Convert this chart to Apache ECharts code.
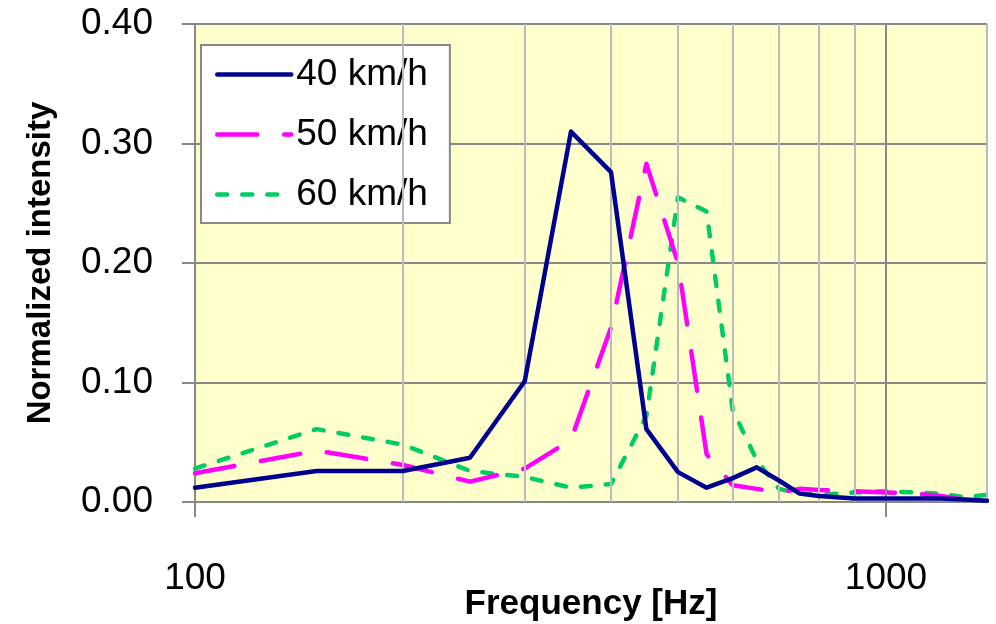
<!DOCTYPE html>
<html>
<head>
<meta charset="utf-8">
<script src="https://cdn.jsdelivr.net/npm/echarts@6/dist/echarts.min.js"></script>
<style>
  html, body { margin: 0; padding: 0; background: #fff; }
  #chart { width: 996px; height: 624px; }
</style>
</head>
<body>
<div id="chart"></div>
<script>
// frequencies (Hz) shared by all three curves
var freq = [100, 150, 200, 250, 300, 350, 400, 450, 500, 550, 600, 650, 700, 750, 800, 900, 1000, 1100, 1200, 1300, 1400];
var speeds = ['40 km/h', '50 km/h', '60 km/h'];
var v40 = [0.012, 0.026, 0.026, 0.037, 0.101, 0.310, 0.276, 0.061, 0.025, 0.012, 0.020, 0.029, 0.018, 0.007, 0.005, 0.003, 0.003, 0.003, 0.003, 0.002, 0.001];
var v50 = [0.024, 0.043, 0.031, 0.017, 0.028, 0.052, 0.146, 0.283, 0.200, 0.040, 0.014, 0.011, 0.008, 0.011, 0.010, 0.009, 0.008, 0.007, 0.005, 0.002, 0.001];
var v60 = [0.028, 0.061, 0.048, 0.026, 0.021, 0.012, 0.015, 0.072, 0.255, 0.243, 0.077, 0.035, 0.011, 0.007, 0.006, 0.008, 0.009, 0.008, 0.007, 0.004, 0.006];
var xLabels = [100, 1000];
var minorX = [200, 300, 400, 500, 600, 700, 800, 900, 1400];

function pairs(vals) {
    return freq.map(function (f, i) { return [f, vals[i]]; });
}

var font = 'Liberation Sans, Arial, sans-serif';
var chart = echarts.init(document.getElementById('chart'));

var option = {
    animation: false,
    grid: {
        left: 195, top: 24, right: 9, bottom: 122,
        outerBoundsMode: 'none',
        show: true, backgroundColor: '#FFFFCC', borderWidth: 0
    },
    legend: {
        orient: 'vertical',
        left: 201, top: 45,
        data: speeds,
        backgroundColor: '#fff',
        borderColor: '#888', borderWidth: 2,
        padding: [11, 22, 10, 14],
        itemWidth: 74, itemHeight: 14, itemGap: 23,
        itemStyle: { opacity: 0 },
        lineStyle: { width: 4.5, cap: 'round' },
        textStyle: { fontFamily: font, fontSize: 37, color: '#000' }
    },
    xAxis: {
        type: 'log', logBase: 10, min: 100, max: 1400,
        name: 'Frequency [Hz]', nameLocation: 'middle', nameGap: 85, nameMoveOverlap: false,
        nameTextStyle: { fontFamily: font, fontSize: 35, fontWeight: 'bold', color: '#000' },
        axisLine: { lineStyle: { color: '#888', width: 2 } },
        axisTick: { customValues: xLabels, length: 15, lineStyle: { color: '#888', width: 2 } },
        axisLabel: {
            customValues: xLabels, margin: 58, fontFamily: font, fontSize: 37, color: '#000',
            formatter: function (v) { return String(Math.round(v)); }
        },
        splitLine: { show: false },
        minorTick: { show: false }
    },
    yAxis: {
        type: 'value', min: 0, max: 0.4, interval: 0.1,
        name: 'Normalized intensity', nameLocation: 'middle', nameGap: 138, nameMoveOverlap: false,
        nameTextStyle: { fontFamily: font, fontSize: 33, fontWeight: 'bold', color: '#000' },
        axisLine: { show: true, lineStyle: { color: '#888', width: 2 } },
        axisTick: { show: true, length: 13, lineStyle: { color: '#888', width: 2 } },
        axisLabel: {
            margin: 42, fontFamily: font, fontSize: 37, color: '#000',
            formatter: function (v) { return v.toFixed(2); }
        },
        splitLine: { lineStyle: { color: '#888', width: 2 } }
    },
    series: [
        {
            name: 'minor grid', type: 'line', data: [], z: 1, silent: true,
            markLine: {
                silent: true, symbol: 'none', label: { show: false },
                lineStyle: { color: '#bbb', width: 2, type: 'solid' },
                data: minorX.map(function (f) { return { xAxis: f }; })
            }
        },
        {
            name: 'major grid', type: 'line', data: [], z: 1, silent: true,
            markLine: {
                silent: true, symbol: 'none', label: { show: false },
                lineStyle: { color: '#888', width: 2, type: 'solid' },
                data: [{ xAxis: 1000 }]
            }
        },
        {
            name: speeds[0], type: 'line', data: pairs(v40), symbol: 'none', z: 5,
            color: '#000090',
            lineStyle: { color: '#000090', width: 4.5, cap: 'round', join: 'round' }
        },
        {
            name: speeds[1], type: 'line', data: pairs(v50), symbol: 'none', z: 4,
            color: '#FF00FF',
            lineStyle: { color: '#FF00FF', width: 4.5, type: [40, 27], cap: 'round', join: 'round' }
        },
        {
            name: speeds[2], type: 'line', data: pairs(v60), symbol: 'none', z: 3,
            color: '#00CC66',
            lineStyle: { color: '#00CC66', width: 4.5, type: [10, 15], cap: 'round', join: 'round' }
        }
    ]
};

option && chart.setOption(option);
</script>
</body>
</html>
